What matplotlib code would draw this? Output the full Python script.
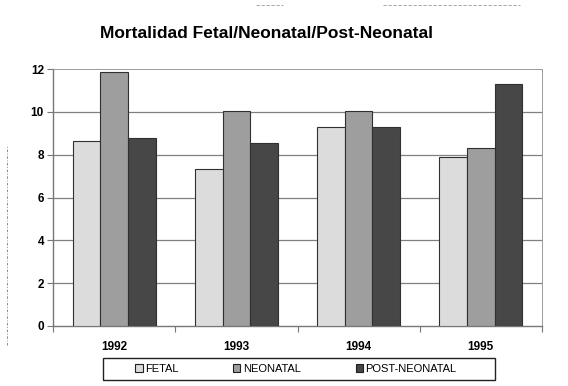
import numpy as np
import matplotlib.pyplot as plt
from matplotlib.patches import Patch, Rectangle
from matplotlib.lines import Line2D

years = ["1992", "1993", "1994", "1995"]
series = ["FETAL", "NEONATAL", "POST-NEONATAL"]
fetal = [8.65, 7.35, 9.3, 7.9]
neonatal = [11.85, 10.05, 10.05, 8.3]
post_neonatal = [8.8, 8.55, 9.3, 11.3]
colors = ["#dcdcdc", "#9e9e9e", "#474747"]

plt.rcParams['font.family'] = ['Liberation Sans', 'DejaVu Sans']

W, H = 568, 386
fig = plt.figure(figsize=(W / 100, H / 100), dpi=100)
ax = fig.add_axes([53 / W, 1 - 326 / H, 489 / W, 257 / H])

x = np.arange(len(years))
w = 0.226
for i, (vals, c) in enumerate(zip([fetal, neonatal, post_neonatal], colors)):
    ax.bar(x + (i - 1) * w, vals, w, color=c, edgecolor="#303030", linewidth=0.8, zorder=3)

ax.set_xlim(-0.5, 3.5)
ax.set_ylim(0, 12)
ax.set_yticks(range(0, 13, 2))
ax.set_yticklabels([str(v) for v in range(0, 13, 2)], fontsize=8.5, fontweight="bold")
ax.tick_params(axis="y", length=4, width=0.8, color="#777777", pad=2.5)

# year labels under the groups, tick marks at the group boundaries
ax.set_xticks(x)
ax.set_xticklabels(years, fontsize=8.5, fontweight="bold")
ax.tick_params(axis="x", length=0, pad=11)
ax.set_xticks(np.arange(-0.5, 4.0, 1.0), minor=True)
ax.tick_params(axis="x", which="minor", length=4, width=0.8, color="#777777")

for v in range(2, 12, 2):
    ax.axhline(v, color="#808080", linewidth=0.9, zorder=1)

for side in ["top", "right"]:
    ax.spines[side].set_linestyle((0, (1, 1)))
    ax.spines[side].set_color("#9a9a9a")
    ax.spines[side].set_linewidth(0.7)
for side in ["left", "bottom"]:
    ax.spines[side].set_color("#777777")
    ax.spines[side].set_linewidth(1.0)

fig.text(267 / W, 1 - 33 / H, "Mortalidad Fetal/Neonatal/Post-Neonatal",
         ha="center", va="center", fontsize=12.5, fontweight="bold")

# legend: frame drawn on its own so it can be wider than the entries
fig.patches.append(Rectangle((103 / W, 1 - 380 / H), 392 / W, 22 / H,
                             transform=fig.transFigure, fill=False,
                             edgecolor="#202020", linewidth=1.0))
handles = [Patch(facecolor=c, edgecolor="#202020", linewidth=0.8) for c in colors]
fig.legend(handles, series, loc="center", bbox_to_anchor=(296 / W, 1 - 369 / H),
           ncol=3, fontsize=8, frameon=False, handlelength=0.65,
           handleheight=0.75, handletextpad=0.25, columnspacing=4.9)

# faint dashed page edges
fig.add_artist(Line2D([7 / W, 7 / W], [1 - 345 / H, 1 - 145 / H], color="#777777",
                      linewidth=0.6, linestyle=(0, (3, 2, 1, 2))))
fig.add_artist(Line2D([383 / W, 520 / W], [1 - 5 / H, 1 - 5 / H], color="#999999",
                      linewidth=0.6, linestyle=(0, (4, 2))))
fig.add_artist(Line2D([256 / W, 283 / W], [1 - 5 / H, 1 - 5 / H], color="#999999",
                      linewidth=0.6, linestyle=(0, (4, 2))))

fig.savefig("out.png", dpi=100)
